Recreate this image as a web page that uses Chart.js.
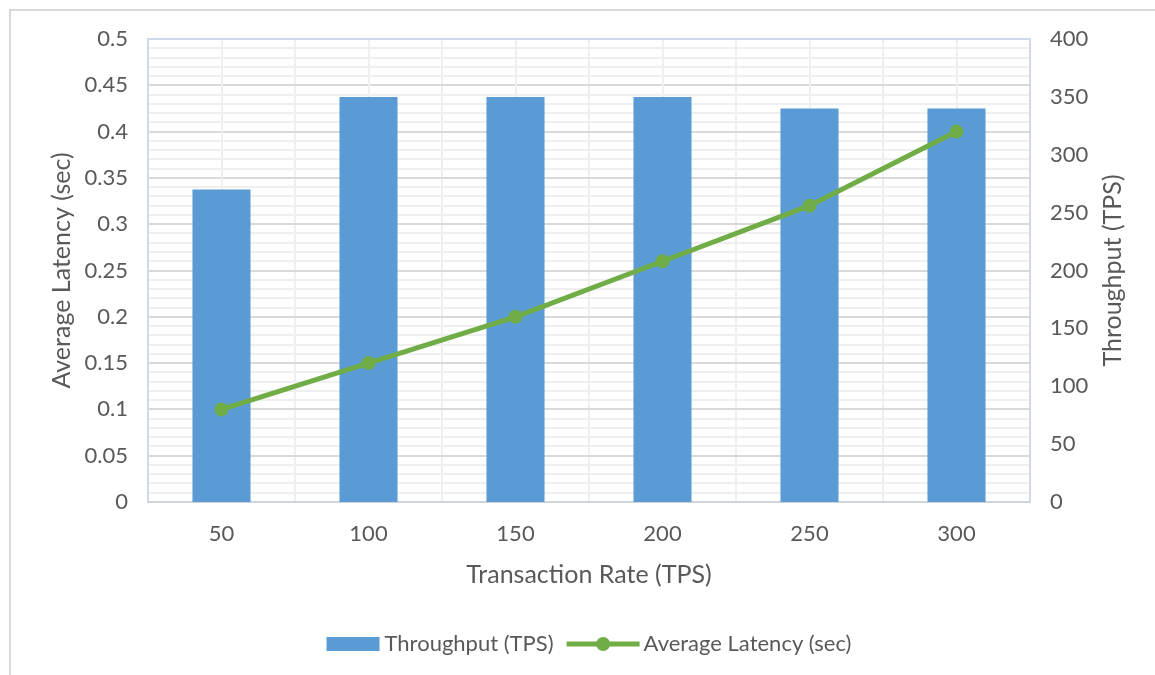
<!DOCTYPE html>
<html>
<head>
<meta charset="utf-8">
<script src="https://cdn.jsdelivr.net/npm/chart.js@4.4.1/dist/chart.umd.min.js"></script>
<style>
  html, body { margin: 0; padding: 0; background: #ffffff; }
  #wrap { position: relative; width: 1155px; height: 675px; overflow: hidden; }
  #frame { position: absolute; left: 9px; top: 9px; width: 1300px; height: 800px;
           border-left: 2px solid #d9d9d9; border-top: 2px solid #d9d9d9; box-sizing: border-box; }
  canvas { position: absolute; left: 0; top: 0; }
</style>
</head>
<body>
<div id="wrap">
  <div id="frame"></div>
  <canvas id="chart" width="1155" height="675"></canvas>
</div>
<script>
// Transaction rates on the x axis
const rates = ['50', '100', '150', '200', '250', '300'];
// Measured throughput (TPS), right axis
const throughput = [270, 350, 350, 350, 340, 340];
// Measured average latency (sec), left axis
const latency = [0.1, 0.15, 0.2, 0.26, 0.32, 0.4];
// Axis tick labels
const latencyTicks = [0, 0.05, 0.1, 0.15, 0.2, 0.25, 0.3, 0.35, 0.4, 0.45, 0.5];
const throughputTicks = [0, 50, 100, 150, 200, 250, 300, 350, 400];

const FONT = 'Lato, "Open Sans", sans-serif';
const TEXT = '#595959';
const BLUE = '#5b9bd5';
const GREEN = '#70ad47';

// Minor gridlines, category-centre gridlines and the plot frame
const plotDecor = {
  id: 'plotDecor',
  beforeDatasetsDraw(chart) {
    const { ctx, chartArea: a, scales } = chart;
    const yl = scales.y, x = scales.x;
    ctx.save();
    ctx.lineWidth = 2;
    ctx.strokeStyle = '#efefef';
    for (let i = 0; i < latencyTicks.length - 1; i++) {
      const lo = latencyTicks[i], hi = latencyTicks[i + 1];
      for (let k = 1; k < 5; k++) {
        const py = Math.round(yl.getPixelForValue(lo + (hi - lo) * k / 5));
        ctx.beginPath(); ctx.moveTo(a.left, py); ctx.lineTo(a.right, py); ctx.stroke();
      }
    }
    for (let i = 0; i < rates.length; i++) {
      const px = Math.round(x.getPixelForValue(i));
      ctx.beginPath(); ctx.moveTo(px, a.top); ctx.lineTo(px, a.bottom); ctx.stroke();
    }
    ctx.strokeStyle = '#cdd9ec';
    ctx.strokeRect(a.left, a.top, a.right - a.left, a.bottom - a.top);
    ctx.strokeStyle = '#cfd4dc';
    ctx.beginPath(); ctx.moveTo(a.left, a.bottom); ctx.lineTo(a.right, a.bottom); ctx.stroke();
    ctx.restore();
  },
  afterDraw(chart) {
    const { ctx, chartArea: a, scales } = chart;
    ctx.save();
    // right axis title, reading bottom to top
    ctx.fillStyle = TEXT;
    ctx.font = '25px ' + FONT;
    ctx.textAlign = 'center';
    ctx.textBaseline = 'middle';
    ctx.translate(scales.y1.right - 42, (a.top + a.bottom) / 2);
    ctx.rotate(-Math.PI / 2);
    ctx.fillText('Throughput (TPS)', 0, 0);
    ctx.restore();

    // legend
    const ds = chart.data.datasets;
    const ly = 644;
    ctx.save();
    ctx.font = '22px ' + FONT;
    ctx.fillStyle = TEXT;
    ctx.textBaseline = 'middle';
    ctx.textAlign = 'left';
    const w1 = ctx.measureText(ds[0].label).width;
    const w2 = ctx.measureText(ds[1].label).width;
    const total = 53 + 5 + w1 + 13 + 73 + 4 + w2;
    let lx = (a.left + a.right) / 2 - total / 2;
    ctx.fillStyle = BLUE;
    ctx.fillRect(lx, ly - 7, 53, 14);
    lx += 58;
    ctx.fillStyle = TEXT;
    ctx.fillText(ds[0].label, lx, ly);
    lx += w1 + 13;
    ctx.strokeStyle = GREEN;
    ctx.lineWidth = 5;
    ctx.beginPath(); ctx.moveTo(lx, ly); ctx.lineTo(lx + 73, ly); ctx.stroke();
    ctx.fillStyle = GREEN;
    ctx.beginPath(); ctx.arc(lx + 36.5, ly, 7, 0, Math.PI * 2); ctx.fill();
    lx += 77;
    ctx.fillStyle = TEXT;
    ctx.fillText(ds[1].label, lx, ly);
    ctx.restore();
  }
};

new Chart(document.getElementById('chart'), {
  data: {
    labels: rates,
    datasets: [
      {
        type: 'bar',
        label: 'Throughput (TPS)',
        data: throughput,
        yAxisID: 'y1',
        backgroundColor: BLUE,
        borderWidth: 0,
        categoryPercentage: 1,
        barPercentage: 0.395,
        order: 2
      },
      {
        type: 'line',
        label: 'Average Latency (sec)',
        data: latency,
        yAxisID: 'y',
        borderColor: GREEN,
        backgroundColor: GREEN,
        borderWidth: 5,
        pointRadius: 7,
        pointBackgroundColor: GREEN,
        pointBorderWidth: 0,
        tension: 0,
        order: 1
      }
    ]
  },
  plugins: [plotDecor],
  options: {
    responsive: false,
    animation: false,
    devicePixelRatio: 1,
    layout: { padding: { left: 10, right: 0, top: 39, bottom: 85 } },
    plugins: {
      legend: { display: false },
      tooltip: { enabled: false }
    },
    scales: {
      x: {
        offset: true,
        grid: { offset: true, color: '#efefef', lineWidth: 2, drawTicks: false },
        border: { display: false },
        ticks: { color: TEXT, font: { family: FONT, size: 22 }, padding: 19 },
        title: { display: true, text: 'Transaction Rate (TPS)', color: TEXT,
                 font: { family: FONT, size: 25 }, padding: { top: 0, bottom: 0 } },
        afterFit(s) { s.height = 88; }
      },
      y: {
        position: 'left',
        min: 0, max: 0.5,
        afterBuildTicks(s) { s.ticks = latencyTicks.map(v => ({ value: v })); },
        grid: { color: '#d9d9d9', lineWidth: 2, drawTicks: false },
        border: { display: false },
        ticks: { color: TEXT, font: { family: FONT, size: 22 }, padding: 20,
                 callback: v => String(Math.round(v * 100) / 100) },
        title: { display: true, text: 'Average Latency (sec)', color: TEXT,
                 font: { family: FONT, size: 25 }, padding: { top: 37, bottom: 0 } },
        afterFit(s) { s.width = 138; }
      },
      y1: {
        position: 'right',
        min: 0, max: 400,
        afterBuildTicks(s) { s.ticks = throughputTicks.map(v => ({ value: v })); },
        grid: { display: false, drawTicks: false },
        border: { display: false },
        ticks: { color: TEXT, font: { family: FONT, size: 22 }, padding: 20 },
        afterFit(s) { s.width = 125; }
      }
    }
  }
});
</script>
</body>
</html>
